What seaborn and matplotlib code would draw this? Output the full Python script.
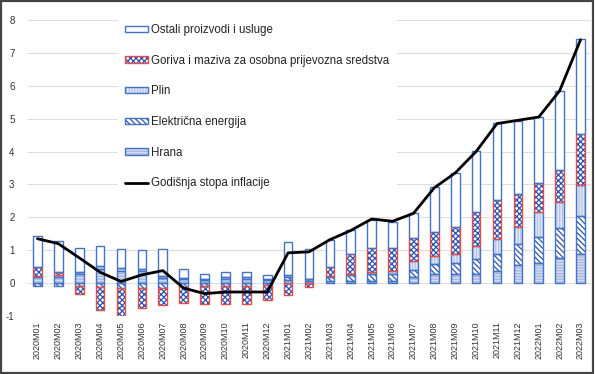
import numpy as np
import pandas as pd
import matplotlib
matplotlib.use("Agg")
import matplotlib.pyplot as plt
from matplotlib.patches import Patch, Rectangle
from matplotlib.lines import Line2D
from matplotlib.legend_handler import HandlerTuple
import seaborn as sns

# -----------------------------
# DATA
# -----------------------------
months = ["2020M01", "2020M02", "2020M03", "2020M04", "2020M05", "2020M06",
          "2020M07", "2020M08", "2020M09", "2020M10", "2020M11", "2020M12",
          "2021M01", "2021M02", "2021M03", "2021M04", "2021M05", "2021M06",
          "2021M07", "2021M08", "2021M09", "2021M10", "2021M11", "2021M12",
          "2022M01", "2022M02", "2022M03"]

hrana = [0.18, 0.18, 0.28, 0.42, 0.38, 0.36, 0.17, 0.13, 0.08, 0.14, 0.14, 0.08,
         0.09, 0.06, 0.07, 0.05, 0.07, 0.07, 0.19, 0.27, 0.29, 0.27, 0.37, 0.55,
         0.60, 0.75, 0.90]
elektricna = [-0.10, -0.10, -0.09, -0.12, -0.15, -0.15, -0.15, -0.11, -0.10, -0.08, -0.08, -0.06,
              0.10, 0.06, 0.12, 0.19, 0.20, 0.22, 0.22, 0.30, 0.31, 0.45, 0.51, 0.65,
              0.80, 0.94, 1.13]
plin = [0.04, 0.06, 0.06, 0.10, 0.09, 0.08, 0.05, 0.04, 0.03, 0.05, 0.05, 0.03,
        0.05, 0.02, 0.03, 0.03, 0.07, 0.08, 0.27, 0.25, 0.30, 0.42, 0.47, 0.51,
        0.76, 0.77, 0.94]
goriva = [0.27, 0.10, -0.25, -0.69, -0.85, -0.62, -0.53, -0.50, -0.52, -0.55, -0.57, -0.44,
          -0.36, -0.12, 0.27, 0.61, 0.73, 0.70, 0.70, 0.74, 0.81, 1.02, 1.19, 0.99,
          0.89, 0.99, 1.57]
ostali = [0.93, 0.93, 0.74, 0.61, 0.58, 0.58, 0.83, 0.27, 0.16, 0.15, 0.15, 0.15,
          1.01, 0.89, 0.83, 0.73, 0.86, 0.79, 0.76, 1.36, 1.64, 1.87, 2.32, 2.24,
          2.01, 2.38, 2.88]
inflacija = [1.35, 1.20, 0.77, 0.33, 0.05, 0.25, 0.38, -0.15, -0.32, -0.27, -0.27, -0.27,
             0.92, 0.95, 1.32, 1.60, 1.95, 1.88, 2.12, 2.90, 3.35, 4.00, 4.85, 4.95,
             5.05, 5.85, 7.40]

# -----------------------------
# STYLE
# -----------------------------
sns.set_theme(style="white")
plt.rcParams["font.family"] = ["Liberation Sans", "DejaVu Sans"]
plt.rcParams["hatch.linewidth"] = 0.9

blue = "#4472c4"
dark_blue = "#2f55a8"
red = "#ee4b3f"

# name, values, face, hatch, hatch colour, outline colour
series = [
    ("Hrana", hrana, "#d3dbf0", "------", "#a3b5e0", blue),
    ("Električna energija", elektricna, "white", "\\\\\\\\\\\\", dark_blue, blue),
    ("Plin", plin, "#e3e8f5", "||||||", "#b3c1e6", blue),
    ("Goriva i maziva za osobna prijevozna sredstva", goriva, "white", "xxxxxx", "#2a52b8", red),
    ("Ostali proizvodi i usluge", ostali, "white", None, blue, blue),
]

x = np.arange(len(months))
width = 0.42

fig = plt.figure(figsize=(5.95, 3.74), dpi=100)
ax = fig.add_axes([27 / 595, 1 - 316 / 374, 564 / 595, 296 / 374])

pos_bottom = np.zeros(len(months))
neg_bottom = np.zeros(len(months))
handles = {}
for name, vals, face, hatch, hcol, ecol in series:
    v = np.array(vals)
    bottom = np.where(v >= 0, pos_bottom, neg_bottom)
    # fill + hatch layer
    ax.bar(x, v, width, bottom=bottom, color=face, hatch=hatch,
           edgecolor=hcol, linewidth=0, zorder=2)
    # outline layer
    ax.bar(x, v, width, bottom=bottom, fill=False, edgecolor=ecol,
           linewidth=1.0, zorder=3)
    pos_bottom = pos_bottom + np.where(v >= 0, v, 0)
    neg_bottom = neg_bottom + np.where(v < 0, v, 0)
    handles[name] = (Patch(facecolor=face, hatch=hatch, edgecolor=hcol, linewidth=0),
                     Patch(fill=False, edgecolor=ecol, linewidth=1.0))

df_line = pd.DataFrame({"x": x, "inflacija": inflacija})
sns.lineplot(data=df_line, x="x", y="inflacija", color="black", linewidth=2.0,
             ax=ax, zorder=4)

ax.set_xlim(-0.5, len(months) - 0.5)
ax.set_ylim(-1, 8)
ax.set_yticks(range(-1, 9))
ax.set_yticklabels([str(t) for t in range(-1, 9)], fontsize=7, color="#333333")
ax.set_xticks(x)
ax.set_xticklabels(months, rotation=90, fontsize=6.5, color="#333333")
ax.tick_params(axis="x", length=0, pad=4)
ax.tick_params(axis="y", length=0, pad=9)
ax.set_xlabel("")
ax.set_ylabel("")
ax.grid(axis="y", color="#dedede", linewidth=0.8, zorder=0)
ax.set_axisbelow(True)
for s in ax.spines.values():
    s.set_visible(False)

order = ["Ostali proizvodi i usluge",
         "Goriva i maziva za osobna prijevozna sredstva",
         "Plin", "Električna energija", "Hrana"]
leg_handles = [handles[n] for n in order] + [Line2D([], [], color="black", linewidth=2.0)]
leg_labels = order + ["Godišnja stopa inflacije"]
leg = ax.legend(leg_handles, leg_labels, loc="upper left",
                bbox_to_anchor=(118 / 595, 1 - 17 / 374), bbox_transform=fig.transFigure,
                fontsize=8.3, frameon=True, facecolor="white", edgecolor="white",
                framealpha=1, fancybox=False, labelspacing=1.62,
                handlelength=2.0, handleheight=0.5, handletextpad=0.3,
                borderpad=0.6, borderaxespad=0,
                handler_map={tuple: HandlerTuple(ndivide=1, pad=0)})
leg.set_zorder(5)
for t in leg.get_texts():
    t.set_color("#222222")

# frame around whole picture
fig.patches.append(Rectangle((0.002, 0.003), 0.995, 0.994, transform=fig.transFigure,
                             fill=False, edgecolor="#444444", linewidth=1.6))

fig.savefig("out.png", dpi=100)
